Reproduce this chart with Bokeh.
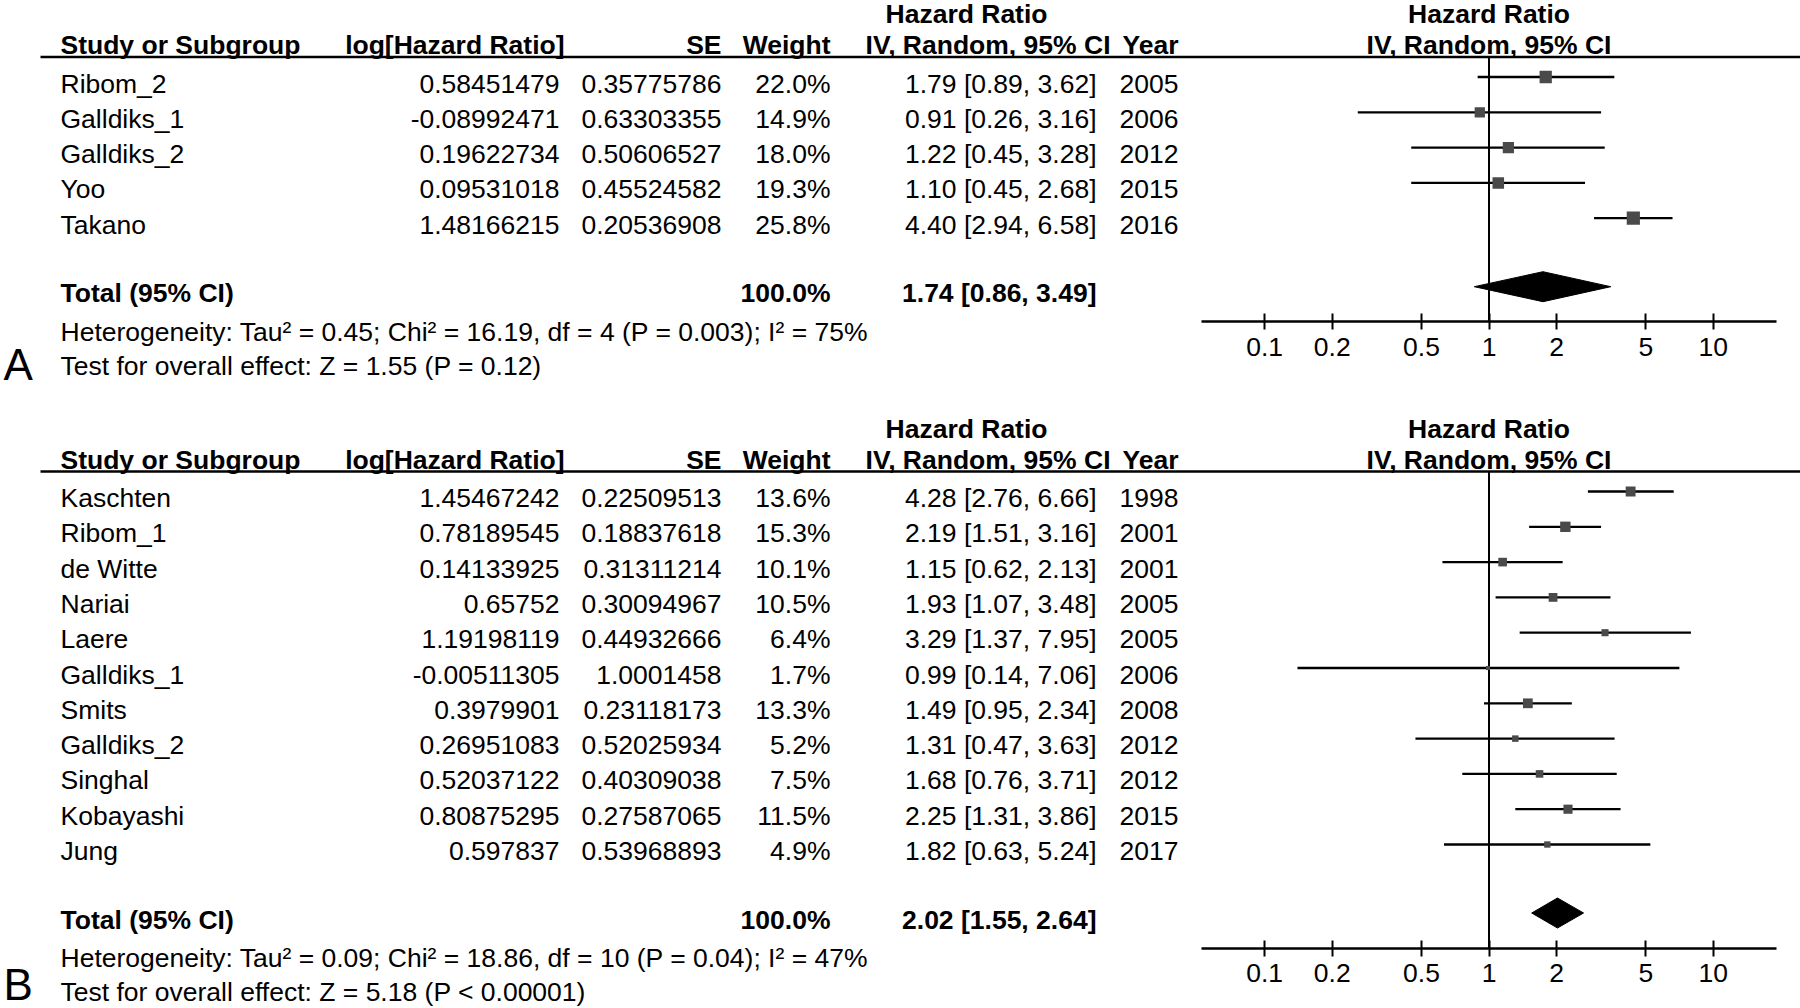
from bokeh.plotting import figure
from bokeh.models import Range1d, ColumnDataSource, FixedTicker, LogAxis, LogScale
from bokeh.layouts import column
from bokeh.embed import file_html
from bokeh.resources import INLINE
from bokeh.core.properties import value
import math

# ---------------- Panel A data ----------------
a_study = ["Ribom_2", "Galldiks_1", "Galldiks_2", "Yoo", "Takano"]
a_loghr = ["0.58451479", "-0.08992471", "0.19622734", "0.09531018", "1.48166215"]
a_se = ["0.35775786", "0.63303355", "0.50606527", "0.45524582", "0.20536908"]
a_weight = [22.0, 14.9, 18.0, 19.3, 25.8]
a_hr = [1.79, 0.91, 1.22, 1.10, 4.40]
a_lo = [0.89, 0.26, 0.45, 0.45, 2.94]
a_hi = [3.62, 3.16, 3.28, 2.68, 6.58]
a_year = ["2005", "2006", "2012", "2015", "2016"]
a_total = [1.74, 0.86, 3.49]
a_het = "Heterogeneity: Tau\u00b2 = 0.45; Chi\u00b2 = 16.19, df = 4 (P = 0.003); I\u00b2 = 75%"
a_test = "Test for overall effect: Z = 1.55 (P = 0.12)"

# ---------------- Panel B data ----------------
b_study = ["Kaschten", "Ribom_1", "de Witte", "Nariai", "Laere", "Galldiks_1",
           "Smits", "Galldiks_2", "Singhal", "Kobayashi", "Jung"]
b_loghr = ["1.45467242", "0.78189545", "0.14133925", "0.65752", "1.19198119",
           "-0.00511305", "0.3979901", "0.26951083", "0.52037122", "0.80875295", "0.597837"]
b_se = ["0.22509513", "0.18837618", "0.31311214", "0.30094967", "0.44932666",
        "1.0001458", "0.23118173", "0.52025934", "0.40309038", "0.27587065", "0.53968893"]
b_weight = [13.6, 15.3, 10.1, 10.5, 6.4, 1.7, 13.3, 5.2, 7.5, 11.5, 4.9]
b_hr = [4.28, 2.19, 1.15, 1.93, 3.29, 0.99, 1.49, 1.31, 1.68, 2.25, 1.82]
b_lo = [2.76, 1.51, 0.62, 1.07, 1.37, 0.14, 0.95, 0.47, 0.76, 1.31, 0.63]
b_hi = [6.66, 3.16, 2.13, 3.48, 7.95, 7.06, 2.34, 3.63, 3.71, 3.86, 5.24]
b_year = ["1998", "2001", "2001", "2005", "2005", "2006", "2008", "2012", "2012", "2015", "2017"]
b_total = [2.02, 1.55, 2.64]
b_het = "Heterogeneity: Tau\u00b2 = 0.09; Chi\u00b2 = 18.86, df = 10 (P = 0.04); I\u00b2 = 47%"
b_test = "Test for overall effect: Z = 5.18 (P < 0.00001)"

tick_values = [0.1, 0.2, 0.5, 1, 2, 5, 10]
tick_labels = ["0.1", "0.2", "0.5", "1", "2", "5", "10"]

FONT_NAME = "Liberation Sans"
FONT = value(FONT_NAME)
FS = "26.5px"
STEP = 35.3
W = 1800
X_LEFT, X_RIGHT = 0, 1800            # linear x range (reference px)
ONE_X, DECADE = 1488.5, 224.3        # where HR = 1 sits, px per decade
LOG_START = 10 ** ((X_LEFT - ONE_X) / DECADE)
LOG_END = 10 ** ((X_RIGHT - ONE_X) / DECADE)
AX_BOUNDS = (0.0525, 19.05)
SQ_COLOR = "#4a4a4a"


def txt(p, x, y, t, align="left", bold=False, size=FS, rng="default"):
    p.text(x=x, y=y, text=t, text_align=align, text_baseline="middle",
           text_font=FONT, text_font_size=size, x_range_name=rng,
           text_font_style="bold" if bold else "normal", text_color="black")


def build(label, study, loghr, se, weight, hr, lo, hi, year, total, het, test,
          top, bottom, rule_y, label_dy):
    n = len(study)
    rows = [rule_y + 28 + i * STEP for i in range(n)]
    tot_y = rows[-1] + 67
    het_y = tot_y + 38.5
    test_y = tot_y + 72.5
    axis_y = tot_y + 28.5

    p = figure(width=W, height=int(bottom - top), output_backend="svg", toolbar_location=None,
               x_range=Range1d(X_LEFT, X_RIGHT), y_range=Range1d(bottom, top),
               extra_x_ranges={"log": Range1d(LOG_START, LOG_END)},
               extra_x_scales={"log": LogScale()},
               x_axis_location=None, y_axis_location=None,
               min_border=0, outline_line_color=None)
    p.xgrid.visible = False
    p.ygrid.visible = False

    # ---------- table ----------
    src = ColumnDataSource(dict(
        study=study, loghr=loghr, se=se,
        weight=["%.1f%%" % w for w in weight],
        ci=["%.2f [%.2f, %.2f]" % (h, l, u) for h, l, u in zip(hr, lo, hi)],
        year=year, yc=[r - 1.5 for r in rows]))
    for col, xx, al in [("study", 60, "left"), ("loghr", 559, "right"), ("se", 721, "right"),
                        ("weight", 830, "right"), ("ci", 1096, "right"), ("year", 1178, "right")]:
        p.text(x=xx, y="yc", text=col, source=src, text_align=al, text_baseline="middle",
               text_font=FONT, text_font_size=FS, text_color="black")
    h1 = rule_y - 43
    h2 = rule_y - 12
    txt(p, 966, h1, ["Hazard Ratio"], "center", True)
    txt(p, 60, h2, ["Study or Subgroup"], "left", True)
    txt(p, 564, h2, ["log[Hazard Ratio]"], "right", True)
    txt(p, 721, h2, ["SE"], "right", True)
    txt(p, 830, h2, ["Weight"], "right", True)
    txt(p, 1110, h2, ["IV, Random, 95% CI"], "right", True)
    txt(p, 1178, h2, ["Year"], "right", True)
    p.segment(x0=[40], x1=[X_RIGHT], y0=[rule_y], y1=[rule_y], line_color="black", line_width=2.5)
    txt(p, 60, tot_y, ["Total (95% CI)"], "left", True)
    txt(p, 830, tot_y, ["100.0%"], "right", True)
    txt(p, 1096, tot_y, ["%.2f [%.2f, %.2f]" % tuple(total)], "right", True)
    txt(p, 60, het_y, [het])
    txt(p, 60, test_y, [test])
    txt(p, 3, test_y + label_dy, [label], size="44px")

    # ---------- forest ----------
    ax = LogAxis(x_range_name="log", ticker=FixedTicker(ticks=tick_values, minor_ticks=[]),
                 fixed_location=axis_y)
    ax.major_label_overrides = {v: s for v, s in zip(tick_values, tick_labels)}
    ax.bounds = AX_BOUNDS
    ax.axis_line_width = 2.5
    ax.axis_line_color = "black"
    ax.major_tick_line_width = 2
    ax.major_tick_line_color = "black"
    ax.major_tick_in = 8
    ax.major_tick_out = 8
    ax.minor_tick_line_color = None
    ax.major_label_standoff = 8
    ax.major_label_text_font = FONT_NAME
    ax.major_label_text_font_size = FS
    ax.major_label_text_color = "black"
    p.add_layout(ax, "below")

    txt(p, 1, h1, ["Hazard Ratio"], "center", True, rng="log")
    txt(p, 1, h2, ["IV, Random, 95% CI"], "center", True, rng="log")
    p.segment(x0=[1], x1=[1], y0=[rule_y], y1=[axis_y], line_color="black", line_width=2,
              x_range_name="log")

    fs = ColumnDataSource(dict(hr=hr, lo=lo, hi=hi, ym=[r - 8 for r in rows],
                               sz=[1 + 2.4 * math.sqrt(w) for w in weight]))
    p.segment(x0="lo", x1="hi", y0="ym", y1="ym", source=fs, line_color="black",
              line_width=2.3, x_range_name="log")
    p.scatter(x="hr", y="ym", size="sz", marker="square", source=fs,
              fill_color=SQ_COLOR, line_color=None, x_range_name="log")
    dy = tot_y - 6.5
    est, l, u = total
    p.patch(x=[l, est, u, est], y=[dy, dy - 15, dy, dy + 15], fill_color="black",
            line_color="black", x_range_name="log")
    return p


pa = build("A", a_study, a_loghr, a_se, a_weight, a_hr, a_lo, a_hi, a_year, a_total, a_het, a_test,
           top=0, bottom=394, rule_y=56.5, label_dy=-1)
pb = build("B", b_study, b_loghr, b_se, b_weight, b_hr, b_lo, b_hi, b_year, b_total, b_het, b_test,
           top=394, bottom=1008, rule_y=471, label_dy=-8)

page = column(pa, pb)
open("out.html", "w").write(file_html(page, INLINE))
